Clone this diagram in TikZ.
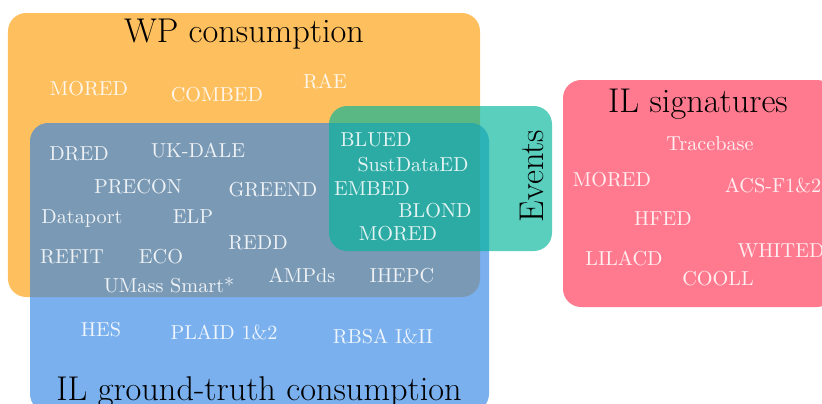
\documentclass[tikz,border=0pt]{standalone}
\usepackage{fontspec}
\usepackage{tikz}
\usepackage{amsmath}

\definecolor{wpOrange}{RGB}{254,157,8}
\definecolor{gtBlue}{RGB}{51,134,229}
\definecolor{evTeal}{RGB}{3,181,155}
\definecolor{sigRed}{RGB}{255,51,83}

\begin{document}
\begin{tikzpicture}[x=0.495pt,y=-0.495pt,
        lbl/.style={anchor=base,text=white,text opacity=0.88,inner sep=0pt},
        hdr/.style={anchor=base,inner sep=0pt,font=\fontsize{17}{20}\selectfont},
        venn/.style={fill opacity=0.65,rounded corners=9pt}]
        \useasboundingbox (0,0) rectangle (822,403);
        \clip (0,0) rectangle (822,403);
        % sets
        \fill[venn,wpOrange] (8,13) rectangle (480,297);
        \fill[venn,gtBlue] (30,123) rectangle (489,412);
        \fill[venn,evTeal] (329,106) rectangle (552,251);
        \fill[venn,sigRed] (563,80) rectangle (835,307);
        % set titles
        \node[hdr] (wpTitle) at (244,42) {WP consumption};
        \node[hdr] (gtTitle) at (259,400) {IL ground-truth consumption};
        \node[hdr] (sigTitle) at (698,112) {IL signatures};
        \node[font=\fontsize{17}{20}\selectfont,rotate=90] (evTitle) at (532,176) {Events};
        % datasets
        \foreach \x/\y/\name [count=\i] in {89/95/MORED, 217/101/COMBED, 325/88/RAE} {
            \node[lbl] (wp\i) at (\x,\y) {\name};
        }
        \foreach \x/\y/\name [count=\i] in {79/160/DRED, 198/157/UK-DALE, 138/193/PRECON,
            273/196/GREEND, 82/223/Dataport, 193/223/ELP, 258/249/REDD, 72/263/REFIT,
            161/263/ECO, 169/292/UMass Smart*, 302/282/AMPds, 402/282/IHEPC} {
            \node[lbl] (both\i) at (\x,\y) {\name};
        }
        \foreach \x/\y/\name [count=\i] in {101/336/HES, 224/339/PLAID 1\&2, 383/343/RBSA I\&II} {
            \node[lbl] (gt\i) at (\x,\y) {\name};
        }
        \foreach \x/\y/\name [count=\i] in {376/146/BLUED, 413/171/SustDataED, 372/195/EMBED,
            435/217/BLOND, 398/240/MORED} {
            \node[lbl] (ev\i) at (\x,\y) {\name};
        }
        \foreach \x/\y/\name [count=\i] in {710/150/Tracebase, 612/186/MORED, 773/192/ACS-F1\&2,
            663/225/HFED, 624/265/LILACD, 781/257/WHITED, 718/285/COOLL} {
            \node[lbl] (sig\i) at (\x,\y) {\name};
        }
    \end{tikzpicture}
\end{document}
